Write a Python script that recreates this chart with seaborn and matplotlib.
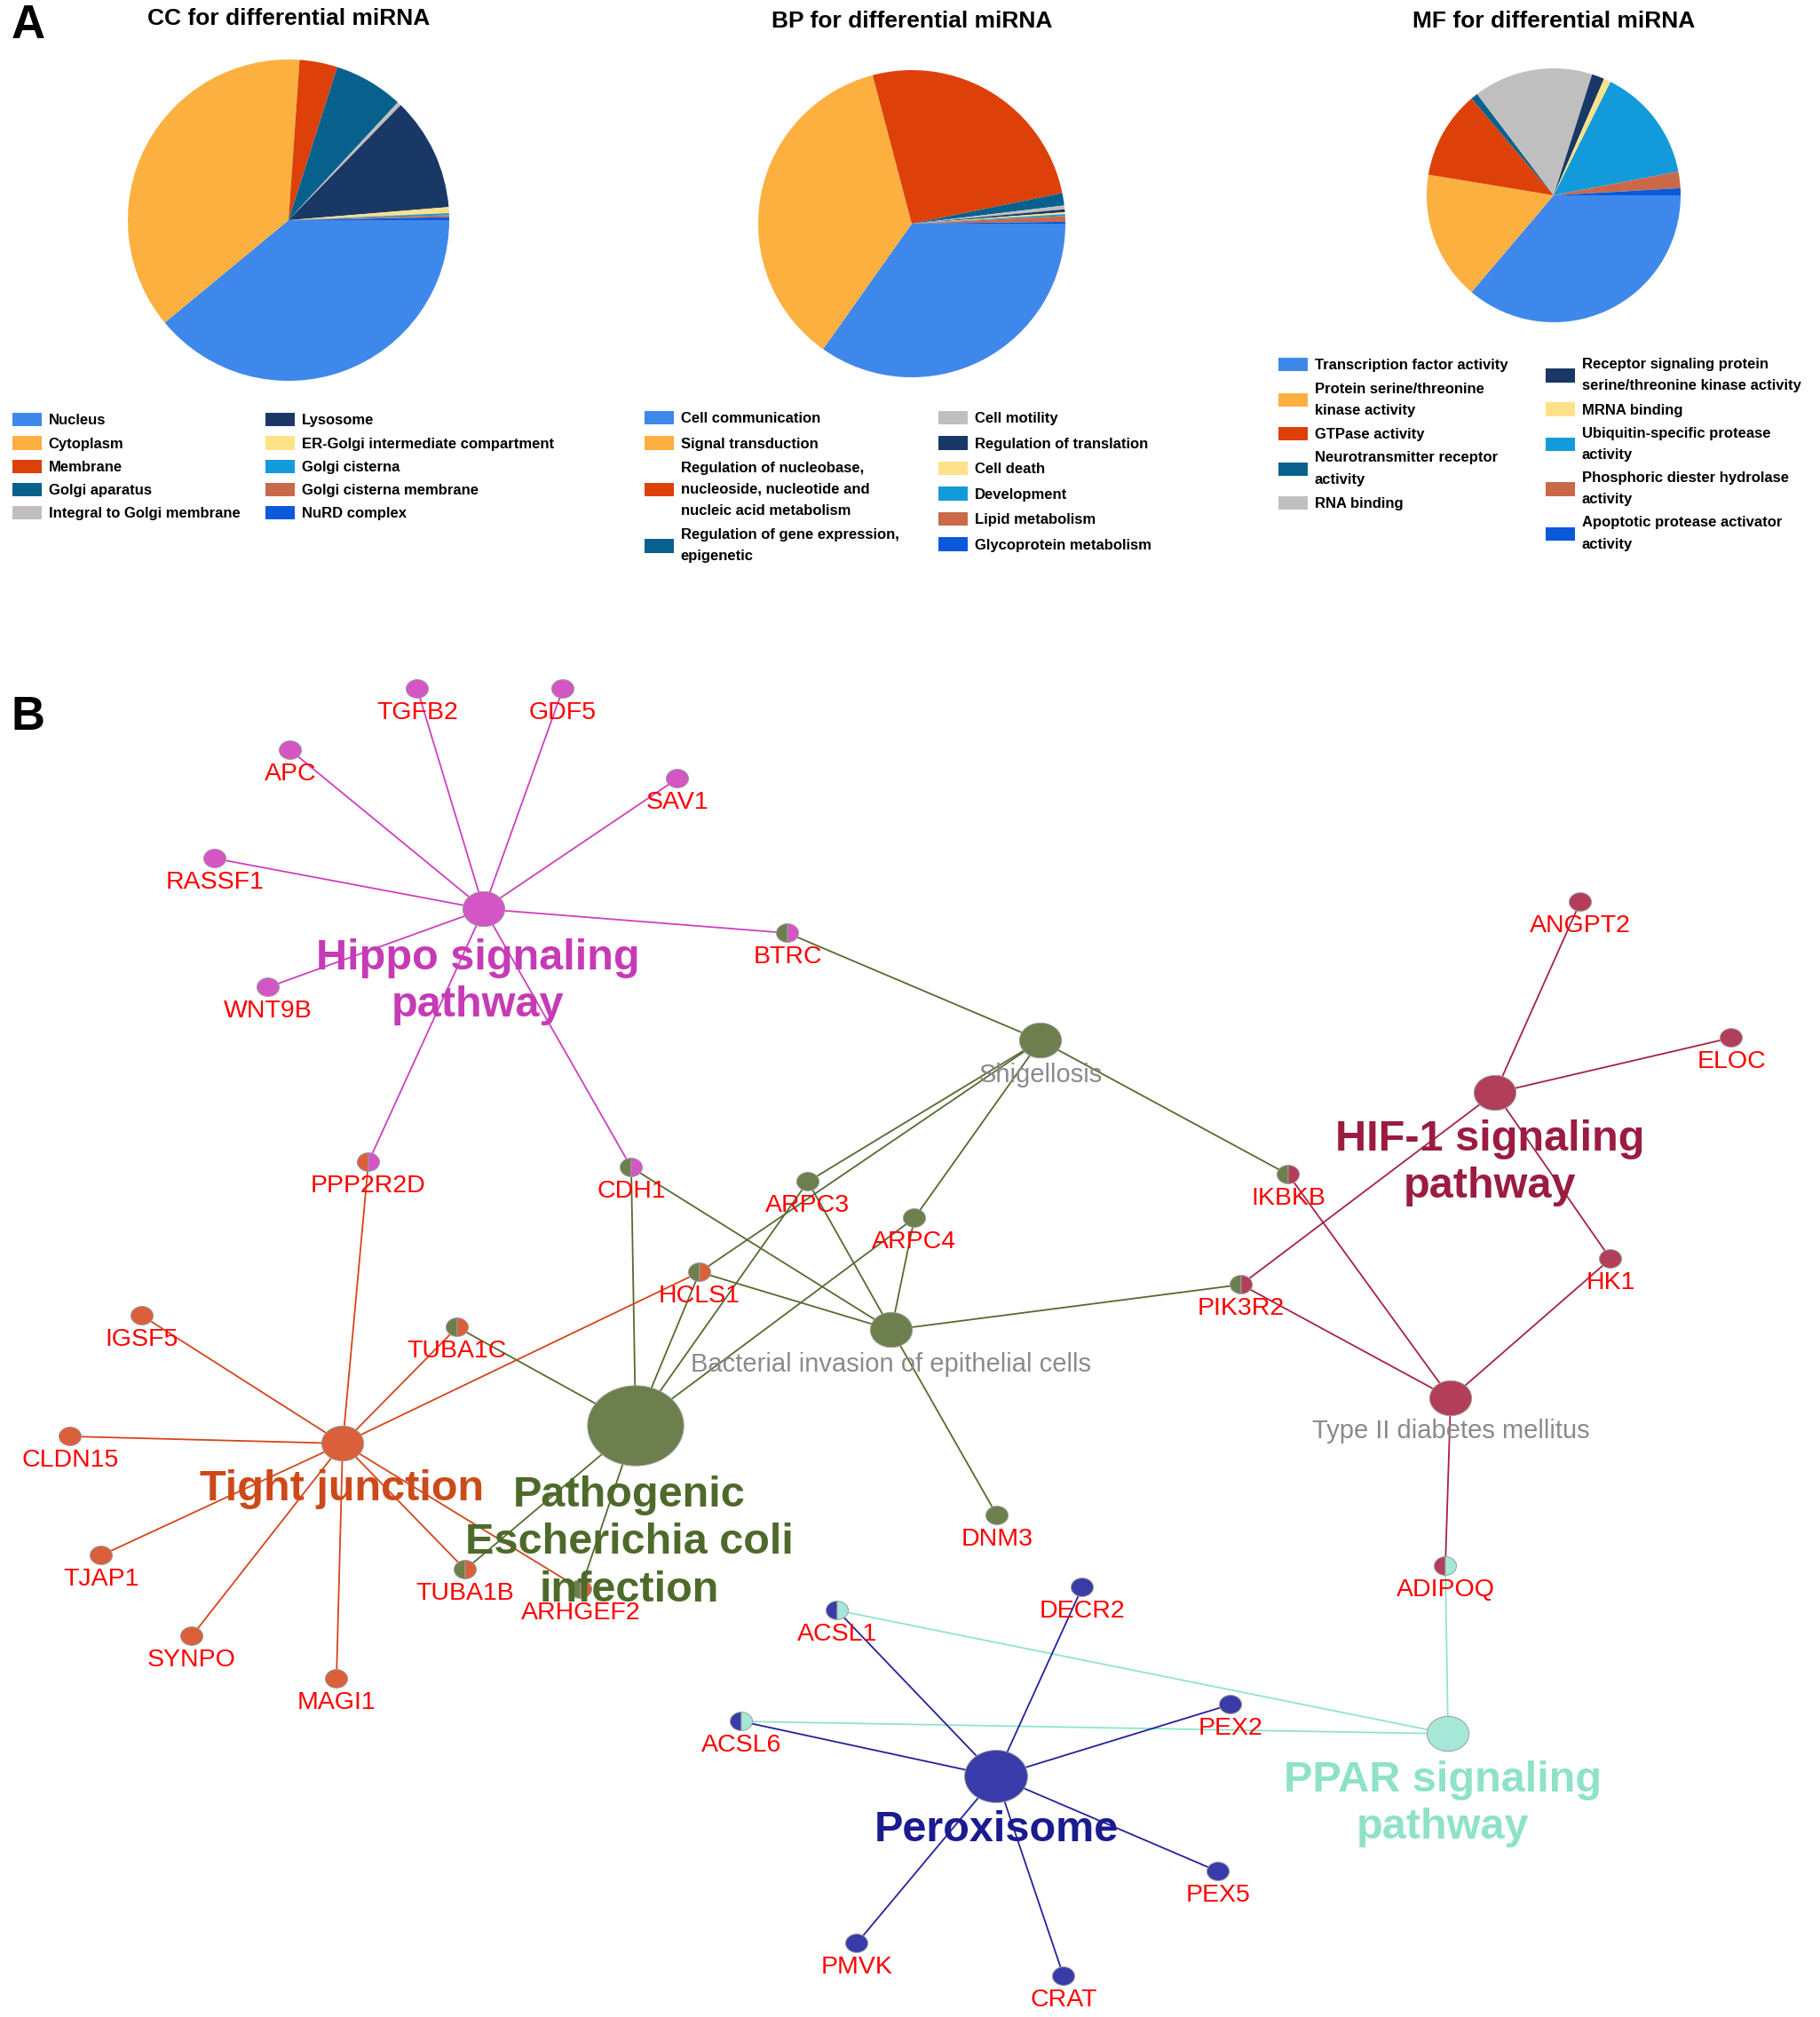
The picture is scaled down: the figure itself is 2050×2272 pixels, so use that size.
import numpy as np
import pandas as pd
import matplotlib
matplotlib.use('Agg')
import matplotlib.pyplot as plt
from matplotlib.path import Path
from matplotlib.patches import Patch
import seaborn as sns

sns.set_theme(style='white')
plt.rcParams['font.family'] = ['Liberation Sans', 'DejaVu Sans']
plt.rcParams['text.color'] = 'black'

W, H, DPI = 2050, 2272, 100

# ---------------- Panel A: GO pies ----------------
pie_colors = ['#3F88EB', '#FBB040', '#DE4009', '#08618C', '#BFBFBF',
              '#1A3866', '#FFE18A', '#139ADB', '#C9694A', '#0B59DB']

cc_labels = ['Nucleus', 'Cytoplasm', 'Membrane', 'Golgi aparatus', 'Integral to Golgi membrane',
             'Lysosome', 'ER-Golgi intermediate compartment', 'Golgi cisterna',
             'Golgi cisterna membrane', 'NuRD complex']
cc_values = [39.0, 37.1, 3.8, 7.0, 0.4, 11.4, 0.6, 0.2, 0.2, 0.3]

bp_labels = ['Cell communication', 'Signal transduction',
             'Regulation of nucleobase,\nnucleoside, nucleotide and\nnucleic acid metabolism',
             'Regulation of gene expression,\nepigenetic',
             'Cell motility', 'Regulation of translation', 'Cell death', 'Development',
             'Lipid metabolism', 'Glycoprotein metabolism']
bp_values = [34.8, 36.1, 25.9, 1.3, 0.4, 0.3, 0.2, 0.2, 0.6, 0.2]

mf_labels = ['Transcription factor activity', 'Protein serine/threonine\nkinase activity',
             'GTPase activity', 'Neurotransmitter receptor\nactivity', 'RNA binding',
             'Receptor signaling protein\nserine/threonine kinase activity', 'MRNA binding',
             'Ubiquitin-specific protease\nactivity', 'Phosphoric diester hydrolase\nactivity',
             'Apoptotic protease activator\nactivity']
mf_values = [36.2, 16.4, 11.2, 0.9, 15.2, 1.6, 0.9, 14.6, 2.1, 0.9]

# ---------------- Panel B: pathway network ----------------
gene_names = ['TGFB2', 'GDF5', 'APC', 'SAV1', 'RASSF1', 'WNT9B', 'BTRC', 'PPP2R2D', 'CDH1',
              'ARPC3', 'ARPC4', 'HCLS1', 'DNM3', 'IGSF5', 'CLDN15', 'TJAP1', 'SYNPO', 'MAGI1',
              'TUBA1C', 'TUBA1B', 'ARHGEF2', 'ANGPT2', 'ELOC', 'HK1', 'IKBKB', 'PIK3R2',
              'ADIPOQ', 'ACSL1', 'ACSL6', 'DECR2', 'PEX2', 'PEX5', 'PMVK', 'CRAT']
gene_left = ['Hippo', 'Hippo', 'Hippo', 'Hippo', 'Hippo', 'Hippo', 'Ecoli', 'Tight', 'Ecoli',
             'Ecoli', 'Ecoli', 'Ecoli', 'Ecoli', 'Tight', 'Tight', 'Tight', 'Tight', 'Tight',
             'Ecoli', 'Ecoli', 'Ecoli', 'HIF', 'HIF', 'HIF', 'Ecoli', 'Ecoli',
             'HIF', 'Perox', 'Perox', 'Perox', 'Perox', 'Perox', 'Perox', 'Perox']
gene_right = ['', '', '', '', '', '', 'Hippo', 'Hippo', 'Hippo',
              '', '', 'Tight', '', '', '', '', '', '',
              'Tight', 'Tight', 'Tight', '', '', '', 'HIF', 'HIF',
              'PPAR', 'PPAR', 'PPAR', '', '', '', '', '']

hub_names = ['Hippo signaling\npathway', 'Shigellosis', 'Bacterial invasion of epithelial cells',
             'Pathogenic\nEscherichia coli\ninfection', 'Tight junction',
             'HIF-1 signaling\npathway', 'Type II diabetes mellitus',
             'PPAR signaling\npathway', 'Peroxisome']
hub_group = ['Hippo', 'Ecoli', 'Ecoli', 'Ecoli', 'Tight', 'HIF', 'HIF', 'PPAR', 'Perox']
hub_kind = ['hub', 'hub', 'hub', 'big', 'hub', 'hub', 'hub', 'hub', 'mid']
hub_bold = [True, False, False, True, True, True, False, True, True]

hub_members = {
    'Hippo signaling\npathway': ['TGFB2', 'GDF5', 'APC', 'SAV1', 'RASSF1', 'WNT9B', 'BTRC', 'PPP2R2D', 'CDH1'],
    'Shigellosis': ['BTRC', 'ARPC3', 'HCLS1', 'ARPC4', 'IKBKB'],
    'Bacterial invasion of epithelial cells': ['CDH1', 'HCLS1', 'ARPC3', 'ARPC4', 'PIK3R2', 'DNM3'],
    'Pathogenic\nEscherichia coli\ninfection': ['CDH1', 'HCLS1', 'ARPC3', 'ARPC4', 'TUBA1C', 'TUBA1B', 'ARHGEF2'],
    'Tight junction': ['IGSF5', 'CLDN15', 'TJAP1', 'SYNPO', 'MAGI1', 'PPP2R2D', 'TUBA1C', 'TUBA1B', 'ARHGEF2', 'HCLS1'],
    'HIF-1 signaling\npathway': ['ANGPT2', 'ELOC', 'HK1', 'PIK3R2'],
    'Type II diabetes mellitus': ['IKBKB', 'PIK3R2', 'HK1', 'ADIPOQ'],
    'PPAR signaling\npathway': ['ADIPOQ', 'ACSL1', 'ACSL6'],
    'Peroxisome': ['ACSL1', 'ACSL6', 'DECR2', 'PEX2', 'PEX5', 'PMVK', 'CRAT'],
}

# layout of the network (pixel positions as drawn in the source figure)
gene_x = [470, 634, 327, 763, 242, 302, 887, 415, 711, 910, 1030, 788, 1123, 160, 79, 114, 216, 379,
          515, 524, 654, 1780, 1950, 1814, 1451, 1398, 1628, 943, 835, 1219, 1386, 1372, 965, 1198]
gene_y = [776, 776, 845, 877, 967, 1112, 1051, 1309, 1315, 1331, 1372, 1433, 1707, 1482, 1618, 1752,
          1843, 1891, 1495, 1768, 1790, 1016, 1169, 1418, 1323, 1447, 1764, 1814, 1939, 1788, 1920,
          2108, 2189, 2226]
hub_x = [545, 1172, 1004, 716, 386, 1684, 1634, 1631, 1122]
hub_y = [1024, 1172, 1498, 1606, 1626, 1231, 1575, 1953, 2001]
hub_lab_x = [538, 1172, 1004, 709, 385, 1678, 1634, 1625, 1122]
hub_lab_y = [1106, 1211, 1537, 1738, 1677, 1310, 1612, 2032, 2061]

node_pal = {'Hippo': '#D455C4', 'Ecoli': '#6C7F4C', 'Tight': '#D9603A',
            'HIF': '#B23E59', 'Perox': '#393BA8', 'PPAR': '#A6E8D8'}
edge_pal = {'Hippo': '#CF3FBE', 'Ecoli': '#556B30', 'Tight': '#D5451A',
            'HIF': '#A62244', 'Perox': '#22229B', 'PPAR': '#8EE5CC'}
text_pal = {'Hippo': '#C73AB6', 'Ecoli': '#4E6A2B', 'Tight': '#CC4A1A',
            'HIF': '#9B1C40', 'Perox': '#1B1B90', 'PPAR': '#8EE2C8'}
node_sizes = {'gene': 18 ** 2, 'hub': 34 ** 2, 'mid': 51 ** 2, 'big': 78 ** 2}

fig = plt.figure(figsize=(W / DPI, H / DPI), dpi=DPI)
fig.patch.set_facecolor('white')

fig.text(32 / W, 1 - 29 / H, 'A', fontsize=38, fontweight='bold', ha='center', va='center')
fig.text(32 / W, 1 - 808 / H, 'B', fontsize=38, fontweight='bold', ha='center', va='center')

pies = [
    ('CC for differential miRNA', cc_labels, cc_values, (325, 248, 181), 21, [(14, 465, 5), (299, 465, 5)]),
    ('BP for differential miRNA', bp_labels, bp_values, (1027, 252, 173), 24, [(726, 463, 4), (1057, 463, 6)]),
    ('MF for differential miRNA', mf_labels, mf_values, (1750, 220, 143), 24, [(1440, 403, 5), (1741, 403, 5)]),
]
handles = [Patch(facecolor=c, edgecolor='none') for c in pie_colors]
spacing = [0.59, 0.72, 0.67]

for (title, labels, values, (cx, cy, r), ty, cols), sp in zip(pies, spacing):
    half = 1.25 * r
    ax = fig.add_axes([(cx - half) / W, 1 - (cy + half) / H, 2 * half / W, 2 * half / H])
    ax.pie(values, colors=pie_colors, startangle=0, counterclock=False,
           wedgeprops=dict(linewidth=0))
    fig.text(cx / W, 1 - ty / H, title, ha='center', va='center',
             fontsize=19, fontweight='bold')
    start = 0
    for lx, ly, n in cols:
        leg = fig.legend(handles[start:start + n], labels[start:start + n], loc='upper left',
                         bbox_to_anchor=(lx / W, 1 - ly / H), frameon=False,
                         prop={'weight': 'bold', 'size': 12},
                         handlelength=2.0, handleheight=1.05, handletextpad=0.45,
                         labelspacing=sp, borderpad=0, borderaxespad=0)
        for t in leg.get_texts():
            t.set_linespacing(1.76)
        start += n

# ---------------- network ----------------
top = 740
axn = fig.add_axes([0, 0, 1, (H - top) / H])

pos = {g: (x, y) for g, x, y in zip(gene_names, gene_x, gene_y)}
pos.update({h: (x, y) for h, x, y in zip(hub_names, hub_x, hub_y)})
hub_grp = dict(zip(hub_names, hub_group))

rows = []
k = 0
for hub, members in hub_members.items():
    for g in members:
        for end in (hub, g):
            rows.append({'edge': k, 'x': pos[end][0], 'y': pos[end][1], 'pathway': hub_grp[hub]})
        k += 1
edge_df = pd.DataFrame(rows)
sns.lineplot(data=edge_df, x='x', y='y', units='edge', estimator=None, hue='pathway',
             palette=edge_pal, sort=False, legend=False, lw=1.3, ax=axn)

t_full = np.linspace(0, 2 * np.pi, 73)
ell_full = Path(np.column_stack([1.2 * np.cos(t_full), np.sin(t_full)]))
t_l = np.linspace(np.pi / 2, 3 * np.pi / 2, 37)
ell_left = Path(np.vstack([np.column_stack([1.2 * np.cos(t_l), np.sin(t_l)]), [[0, 1]]]))
t_r = np.linspace(-np.pi / 2, np.pi / 2, 37)
ell_right = Path(np.vstack([np.column_stack([1.2 * np.cos(t_r), np.sin(t_r)]), [[0, -1]]]))

node_df = pd.DataFrame({'name': gene_names, 'x': gene_x, 'y': gene_y,
                        'left': gene_left, 'right': gene_right, 'kind': 'gene'})
hub_df = pd.DataFrame({'name': hub_names, 'x': hub_x, 'y': hub_y,
                       'left': hub_group, 'right': '', 'kind': hub_kind})
full_df = pd.concat([node_df[node_df['right'] == ''], hub_df], ignore_index=True)
split_df = node_df[node_df['right'] != '']

common = dict(size='kind', sizes=node_sizes, edgecolor='#9c9c9c', linewidth=0.7,
              legend=False, ax=axn, zorder=3)
sns.scatterplot(data=full_df, x='x', y='y', hue='left', palette=node_pal, marker=ell_full, **common)
sns.scatterplot(data=split_df, x='x', y='y', hue='left', palette=node_pal, marker=ell_left, **common)
sns.scatterplot(data=split_df, x='x', y='y', hue='right', palette=node_pal, marker=ell_right, **common)

for g, x, y in zip(gene_names, gene_x, gene_y):
    axn.text(x, y + 27, g, color='#FF0000', fontsize=20.5, ha='center', va='center', zorder=5)

for name, grp, bold, lx, ly in zip(hub_names, hub_group, hub_bold, hub_lab_x, hub_lab_y):
    if bold:
        axn.text(lx, ly, name, color=text_pal[grp], fontsize=35, fontweight='bold',
                 ha='center', va='center', linespacing=1.25, zorder=6)
    else:
        axn.text(lx, ly, name, color='#8A8A8A', fontsize=21, ha='center', va='center', zorder=6)

axn.set_xlim(0, W)
axn.set_ylim(H, top)
axn.axis('off')

fig.savefig('out.png', dpi=DPI, facecolor='white')
